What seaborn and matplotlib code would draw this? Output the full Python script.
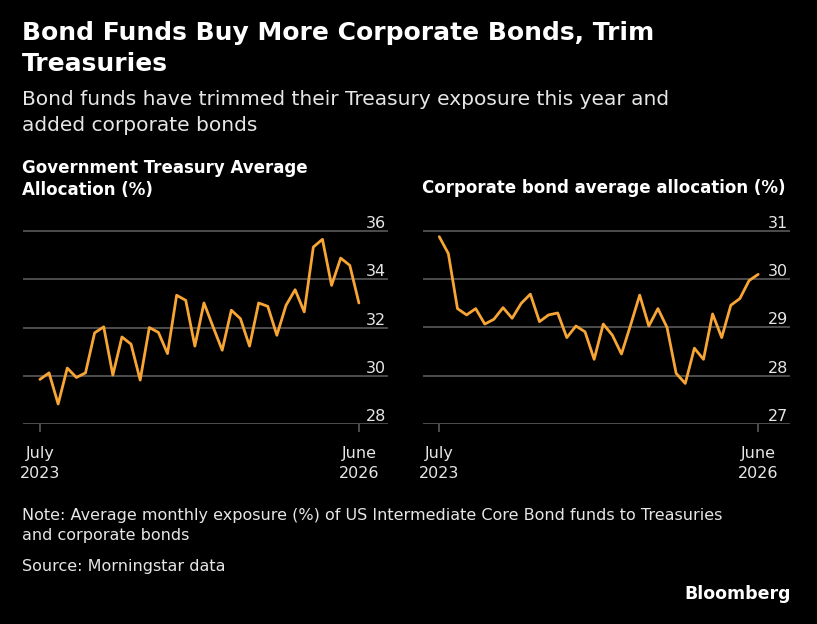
import matplotlib
matplotlib.use("Agg")
import matplotlib.pyplot as plt
import seaborn as sns
import pandas as pd

# monthly averages, July 2023 .. June 2026
treasury = [29.85, 30.12, 28.83, 30.32, 29.93, 30.12, 31.78, 32.03, 30.03, 31.61,
            31.31, 29.82, 32.0, 31.8, 30.92, 33.34, 33.13, 31.23, 33.02, 32.03,
            31.06, 32.72, 32.37, 31.23, 33.02, 32.88, 31.68, 32.92, 33.57, 32.65,
            35.34, 35.66, 33.75, 34.88, 34.58, 33.02]
corporate = [30.88, 30.53, 29.39, 29.26, 29.39, 29.07, 29.17, 29.41, 29.19, 29.50,
             29.69, 29.12, 29.26, 29.30, 28.79, 29.03, 28.91, 28.34, 29.07, 28.84,
             28.45, 29.05, 29.67, 29.03, 29.39, 29.0, 28.05, 27.84, 28.57, 28.34,
             29.28, 28.79, 29.46, 29.60, 29.97, 30.10]
x_labels = ["July\n2023", "June\n2026"]
left_ticks = [28, 30, 32, 34, 36]
right_ticks = [27, 28, 29, 30, 31]

sns.set_theme(style="dark")
plt.rcParams["font.family"] = ["DejaVu Sans"]
orange = "#f7a534"
grid = "#5a5a5a"

fig = plt.figure(figsize=(8.17, 6.24), dpi=100, facecolor="black")

panels = [
    (treasury, left_ticks, [0.028, 0.3205, 0.447, 0.335], (-1.87, 38.2), (28, 36.67)),
    (corporate, right_ticks, [0.518, 0.3205, 0.449, 0.335], (-1.76, 38.5), (27, 31.33)),
]
for vals, ticks, rect, xl, yl in panels:
    ax = fig.add_axes(rect)
    ax.set_facecolor("black")
    df = pd.DataFrame({"i": range(len(vals)), "v": vals})
    for t in ticks:
        ax.axhline(t, color=grid, lw=1.2, zorder=1)
        ax.text(0.995, t, str(t), transform=ax.get_yaxis_transform(), ha="right",
                va="bottom", color="#e6e6e6", fontsize=11.5)
    sns.lineplot(data=df, x="i", y="v", ax=ax, color=orange, lw=2, zorder=3)
    ax.set_xlim(*xl)
    ax.set_ylim(*yl)
    ax.set_xticks([0, len(vals) - 1])
    ax.set_xticklabels(x_labels, color="#e6e6e6", fontsize=11.5, linespacing=1.4)
    ax.tick_params(axis="x", bottom=True, length=6, width=1.2, color=grid, pad=10)
    ax.set_yticks([])
    ax.set_xlabel("")
    ax.set_ylabel("")
    for s in ax.spines.values():
        s.set_visible(False)

fig.text(0.027, 0.922, "Bond Funds Buy More Corporate Bonds, Trim\nTreasuries", color="white",
         fontsize=18, fontweight="bold", va="center", linespacing=1.4)
fig.text(0.027, 0.82, "Bond funds have trimmed their Treasury exposure this year and\nadded corporate bonds",
         color="#e6e6e6", fontsize=14.5, va="center", linespacing=1.5)
fig.text(0.027, 0.713, "Government Treasury Average\nAllocation (%)", color="white",
         fontsize=12, fontweight="bold", va="center", linespacing=1.3)
fig.text(0.516, 0.698, "Corporate bond average allocation (%)", color="white",
         fontsize=12, fontweight="bold", va="center")
fig.text(0.027, 0.158, "Note: Average monthly exposure (%) of US Intermediate Core Bond funds to Treasuries\nand corporate bonds",
         color="#e6e6e6", fontsize=11.5, va="center", linespacing=1.4)
fig.text(0.027, 0.092, "Source: Morningstar data", color="#e6e6e6", fontsize=11.5, va="center")
fig.text(0.968, 0.048, "Bloomberg", color="white", fontsize=12.5, fontweight="bold",
         ha="right", va="center")

fig.savefig("out.png", dpi=100, facecolor="black")
